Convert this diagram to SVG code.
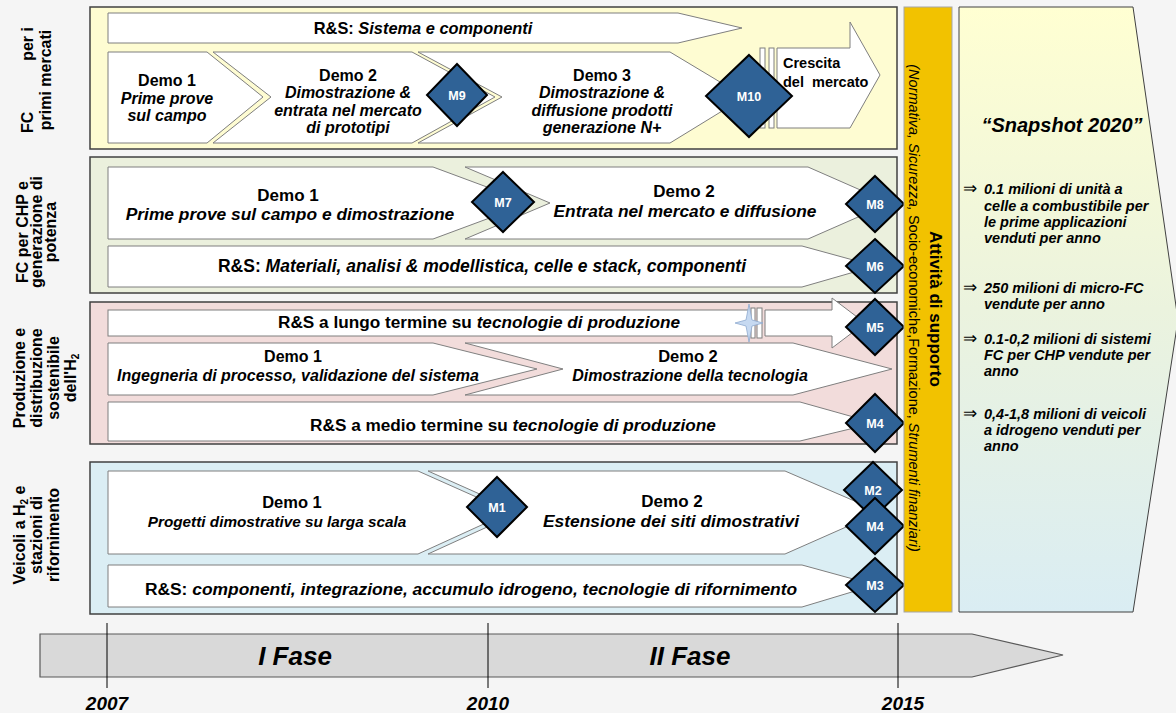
<svg xmlns="http://www.w3.org/2000/svg" width="1176" height="713" viewBox="0 0 1176 713">
<defs>
<linearGradient id="snap" x1="0" y1="0" x2="0" y2="1">
<stop offset="0" stop-color="#ffffd2"/>
<stop offset="0.5" stop-color="#ebf3de"/>
<stop offset="1" stop-color="#daedf3"/>
</linearGradient>
<style>
text{font-family:"Liberation Sans",Arial,sans-serif;font-weight:bold;fill:#000}
.panel{stroke:#404040;stroke-width:1.5}
.box{fill:#fff;stroke:#7f7f7f;stroke-width:1}
.dm{fill:#2f6296;stroke:#000;stroke-width:2}
.ml{fill:#fff;font-size:12.5px;text-anchor:middle}
.t{text-anchor:middle}
.i{font-style:italic}
.lab{font-size:16px;text-anchor:middle}
.sn{font-size:14.5px;font-style:italic}
.ar{font-size:17px;font-weight:normal}
.yr{font-size:19px;font-style:italic;text-anchor:middle}
</style>
</defs>
<rect width="1176" height="713" fill="#f5f5f5"/>

<!-- Row labels -->
<g id="label-p1">
<text class="lab" transform="translate(33,80) rotate(-90)"><tspan x="-53" text-anchor="start">FC</tspan><tspan x="53" text-anchor="end">per i</tspan></text>
<text class="lab" transform="translate(51,80) rotate(-90)">primi mercati</text>
</g>
<g id="label-p2">
<text class="lab" transform="translate(28,232) rotate(-90)">FC per CHP e</text>
<text class="lab" transform="translate(42,232) rotate(-90)">generazione di</text>
<text class="lab" transform="translate(56,232) rotate(-90)">potenza</text>
</g>
<g id="label-p3">
<text class="lab" transform="translate(25,378) rotate(-90)">Produzione e</text>
<text class="lab" transform="translate(42,378) rotate(-90)">distribuzione</text>
<text class="lab" transform="translate(59,378) rotate(-90)">sostenibile</text>
<text class="lab" transform="translate(76,378) rotate(-90)">dell'H<tspan font-size="10" dy="3">2</tspan></text>
</g>
<g id="label-p4">
<text class="lab" transform="translate(25,535) rotate(-90)">Veicoli a H<tspan font-size="10" dy="3">2</tspan><tspan dy="-3"> e</tspan></text>
<text class="lab" transform="translate(42,535) rotate(-90)">stazioni di</text>
<text class="lab" transform="translate(59,535) rotate(-90)">rifornimento</text>
</g>

<!-- Panel 1 -->
<g id="panel1">
<rect class="panel" x="90" y="7" width="807" height="142" fill="#fefcd2"/>
</g>
<g id="p1-rs">
<polygon class="box" points="108,13 678,13 742,28 678,43 108,43"/>
<text class="t" x="423" y="34" style="font-size:16.4px">R&amp;S: <tspan class="i">Sistema e componenti</tspan></text>
</g>
<g id="p1-demo1">
<polygon class="box" points="108,52 207,52 263,97 207,143 108,143"/>
<text class="t" x="167" y="86" style="font-size:16px">Demo 1</text>
<text class="t i" x="167" y="104" style="font-size:16px">Prime prove</text>
<text class="t i" x="167" y="121" style="font-size:16px">sul campo</text>
</g>
<g id="p1-demo2">
<polygon class="box" points="213,52 412,52 495,97 412,143 213,143 271,97"/>
<text class="t" x="348" y="81" style="font-size:16px">Demo 2</text>
<text class="t i" x="348" y="98" style="font-size:16px">Dimostrazione &amp;</text>
<text class="t i" x="348" y="116" style="font-size:16px">entrata nel mercato</text>
<text class="t i" x="348" y="133" style="font-size:16px">di prototipi</text>
</g>
<g id="p1-demo3">
<polygon class="box" points="418,52 670,52 745,97 670,143 418,143 502,97"/>
<text class="t" x="602" y="81" style="font-size:16px">Demo 3</text>
<text class="t i" x="602" y="98" style="font-size:16px">Dimostrazione &amp;</text>
<text class="t i" x="602" y="116" style="font-size:16px">diffusione prodotti</text>
<text class="t i" x="602" y="133" style="font-size:16px">generazione N+</text>
</g>
<g id="p1-crescita">
<rect class="box" x="760" y="48" width="5" height="80"/>
<rect class="box" x="769" y="48" width="5" height="80"/>
<polygon class="box" points="777,48 850,48 850,22 880,75 850,128 777,128"/>
<text x="783" y="68" style="font-size:14.5px">Crescita</text>
<text x="783" y="87" style="font-size:14.5px" xml:space="preserve">del  mercato</text>
</g>
<g id="M9"><polygon class="dm" points="457,64 487,95 457,126 427,95"/><text class="ml" x="457" y="100">M9</text></g>
<g id="M10"><polygon class="dm" points="749,55 792,96 749,137 706,96"/><text class="ml" x="749" y="101">M10</text></g>

<!-- Panel 2 -->
<g id="panel2">
<rect class="panel" x="90" y="157" width="807" height="136" fill="#ebf0dd"/>
</g>
<g id="p2-demo1">
<polygon class="box" points="108,167 433,167 530,203 433,239 108,239"/>
<text class="t" x="288" y="201" style="font-size:17px">Demo 1</text>
<text class="t i" x="290" y="220" style="font-size:17.4px">Prime prove sul campo e dimostrazione</text>
</g>
<g id="p2-demo2">
<polygon class="box" points="465,167 808,167 890,203 808,239 465,239 550,203"/>
<text class="t" x="684" y="197" style="font-size:17px">Demo 2</text>
<text class="t i" x="685" y="217" style="font-size:17.3px">Entrata nel mercato e diffusione</text>
</g>
<g id="p2-rs">
<polygon class="box" points="108,246 802,246 875,266 802,287 108,287"/>
<text class="t" x="482" y="272" style="font-size:17.5px">R&amp;S: <tspan class="i">Materiali, analisi &amp; modellistica, celle e stack, componenti</tspan></text>
</g>
<g id="M7"><polygon class="dm" points="503,172 534,202 503,232 472,202"/><text class="ml" x="503" y="207">M7</text></g>
<g id="M8"><polygon class="dm" points="875,176 904,204 875,232 846,204"/><text class="ml" x="875" y="209">M8</text></g>
<g id="M6"><polygon class="dm" points="875,239 904,266 875,293 846,266"/><text class="ml" x="875" y="271">M6</text></g>

<!-- Panel 3 -->
<g id="panel3">
<rect class="panel" x="90" y="302" width="807" height="142" fill="#f2dcdb"/>
</g>
<g id="p3-rs-lungo">
<rect class="box" x="108" y="310" width="641" height="26"/>
<rect class="box" x="751" y="308" width="4" height="30"/>
<rect class="box" x="757" y="308" width="5" height="30"/>
<polygon class="box" points="765,310 832,310 832,298 865,323 832,348 832,336 765,336"/>
<polygon points="749,304 752,320 763,323 752,326 749,342 746,326 735,323 746,320" fill="#c6d9f1" stroke="#8ea9cf" stroke-width="0.8"/>
<text class="t" x="479" y="328" style="font-size:17.2px">R&amp;S a lungo termine su <tspan class="i">tecnologie di produzione</tspan></text>
</g>
<g id="p3-demo1">
<polygon class="box" points="108,343 433,343 537,369 433,395 108,395"/>
<text class="t" x="293" y="362" style="font-size:16px">Demo 1</text>
<text class="t i" x="298" y="381" style="font-size:16px">Ingegneria di processo, validazione del sistema</text>
</g>
<g id="p3-demo2">
<polygon class="box" points="465,343 793,343 892,369 793,395 465,395 563,369"/>
<text class="t" x="688" y="362" style="font-size:16.5px">Demo 2</text>
<text class="t i" x="690" y="381" style="font-size:16px">Dimostrazione della tecnologia</text>
</g>
<g id="p3-rs-medio">
<polygon class="box" points="108,402 800,402 875,423 800,441 108,441"/>
<text class="t" x="513" y="431" style="font-size:17.2px">R&amp;S a medio termine su <tspan class="i">tecnologie di produzione</tspan></text>
</g>
<g id="M5"><polygon class="dm" points="875,299 904,327 875,355 846,327"/><text class="ml" x="875" y="332">M5</text></g>
<g id="M4a"><polygon class="dm" points="875,394 904,423 875,452 846,423"/><text class="ml" x="875" y="428">M4</text></g>

<!-- Panel 4 -->
<g id="panel4">
<rect class="panel" x="90" y="462" width="807" height="152" fill="#dbeef4"/>
</g>
<g id="p4-demo1">
<polygon class="box" points="108,471 418,471 510,512 418,554 108,554"/>
<text class="t" x="292" y="508" style="font-size:16.5px">Demo 1</text>
<text class="t i" x="277" y="527" style="font-size:15.3px">Progetti dimostrative su larga scala</text>
</g>
<g id="p4-demo2">
<polygon class="box" points="428,471 785,471 880,512 785,554 428,554 520,512"/>
<text class="t" x="672" y="507" style="font-size:17px">Demo 2</text>
<text class="t i" x="671" y="527" style="font-size:17.4px">Estensione dei siti dimostrativi</text>
</g>
<g id="p4-rs">
<polygon class="box" points="108,565 802,565 875,585 802,607 108,607"/>
<text class="t" x="471" y="595" style="font-size:17.4px">R&amp;S: <tspan class="i">componenti, integrazione, accumulo idrogeno, tecnologie di rifornimento</tspan></text>
</g>
<g id="M1"><polygon class="dm" points="497,477 527,507 497,537 467,507"/><text class="ml" x="497" y="512">M1</text></g>
<g id="M2"><polygon class="dm" points="873,462 902,490 873,518 844,490"/><text class="ml" x="873" y="495">M2</text></g>
<g id="M4b"><polygon class="dm" points="875,498 904,526 875,554 846,526"/><text class="ml" x="875" y="531">M4</text></g>
<g id="M3"><polygon class="dm" points="875,558 904,585 875,612 846,585"/><text class="ml" x="875" y="590">M3</text></g>

<!-- Support column -->
<g id="supporto">
<rect x="904" y="7" width="48" height="605" fill="#f2c200" stroke="#a6a6a6" stroke-width="1"/>
<text transform="translate(930,309) rotate(90)" style="font-size:17px" text-anchor="middle">Attività di supporto</text>
<text transform="translate(909,308) rotate(90)" style="font-size:14.5px;font-weight:normal" text-anchor="middle"><tspan font-style="italic">(Normativa, Sicurezza, </tspan>Socio-economiche,Formazione, <tspan font-style="italic">Strumenti finanziari)</tspan></text>
</g>

<!-- Snapshot -->
<g id="snapshot">
<polygon points="959,7 1133,7 1178,320 1133,612 959,612" fill="url(#snap)" stroke="#404040" stroke-width="1"/>
<text x="1062" y="132" style="font-size:20px;font-style:italic" text-anchor="middle">“Snapshot 2020”</text>
<text class="ar" x="963" y="194">⇒</text>
<text class="sn" x="984" y="194">0.1 milioni di unità a</text>
<text class="sn" x="984" y="211">celle a combustibile per</text>
<text class="sn" x="984" y="227">le prime applicazioni</text>
<text class="sn" x="984" y="243">venduti per anno</text>
<text class="ar" x="963" y="293">⇒</text>
<text class="sn" x="984" y="293">250 milioni di micro-FC</text>
<text class="sn" x="984" y="309">vendute per anno</text>
<text class="ar" x="963" y="344">⇒</text>
<text class="sn" x="984" y="344">0.1-0,2 milioni di sistemi</text>
<text class="sn" x="984" y="360">FC per CHP vendute per</text>
<text class="sn" x="984" y="376">anno</text>
<text class="ar" x="963" y="419">⇒</text>
<text class="sn" x="984" y="419">0,4-1,8 milioni di veicoli</text>
<text class="sn" x="984" y="435">a idrogeno venduti per</text>
<text class="sn" x="984" y="451">anno</text>
</g>

<!-- Timeline -->
<g id="timeline">
<polygon points="40,634 972,634 1063,655 972,677 40,677" fill="#d9d9d9" stroke="#595959" stroke-width="1.2"/>
<text x="295" y="665" style="font-size:26px;font-style:italic" text-anchor="middle">I Fase</text>
<text x="690" y="665" style="font-size:26px;font-style:italic" text-anchor="middle">II Fase</text>
<line x1="107" y1="623" x2="107" y2="688" stroke="#000" stroke-width="1"/>
<line x1="488" y1="623" x2="488" y2="688" stroke="#000" stroke-width="1"/>
<line x1="898" y1="623" x2="898" y2="688" stroke="#000" stroke-width="1"/>
<text class="yr" x="107" y="710">2007</text>
<text class="yr" x="488" y="710">2010</text>
<text class="yr" x="903" y="710">2015</text>
</g>
</svg>
